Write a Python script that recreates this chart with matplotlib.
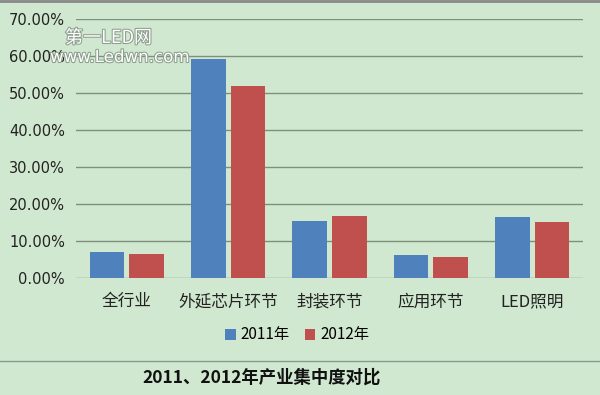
import matplotlib
matplotlib.use("Agg")
import matplotlib.pyplot as plt
import matplotlib.patheffects as pe
import numpy as np
from matplotlib.lines import Line2D

plt.rcParams["font.family"] = ["Noto Sans CJK SC", "DejaVu Sans"]

# 数据
categories = ["全行业", "外延芯片环节", "封装环节", "应用环节", "LED照明"]
vals_2011 = [7.0, 59.2, 15.4, 6.2, 16.5]
vals_2012 = [6.6, 51.9, 16.8, 5.7, 15.1]
series_names = ["2011年", "2012年"]
yticks = [0, 10, 20, 30, 40, 50, 60, 70]

BG = "#D0E8CF"
BLUE = "#4F81BD"
RED = "#C0504D"
GRID = "#7E8F7E"

fig = plt.figure(figsize=(6.0, 3.95), dpi=100, facecolor=BG)
ax = fig.add_axes([76 / 600, 1 - 278 / 395, 507 / 600, 259 / 395])
ax.set_facecolor(BG)

x = np.arange(len(categories))
w = 0.34
ax.bar(x - 0.195, vals_2011, width=w, color=BLUE, label=series_names[0], zorder=3)
ax.bar(x + 0.195, vals_2012, width=w, color=RED, label=series_names[1], zorder=3)

ax.set_xlim(-0.5, len(categories) - 0.5)
ax.set_ylim(0, 70)
ax.set_yticks(yticks)
ax.set_yticklabels([f"{v:.2f}%" for v in yticks], fontsize=10.5, color="#222222",
                   family=["DejaVu Sans"])
ax.set_xticks(x)
ax.set_xticklabels(categories, fontsize=12, color="#222222")
ax.tick_params(axis="both", length=0)
ax.tick_params(axis="x", pad=11)
ax.tick_params(axis="y", pad=8)
ax.grid(axis="y", color=GRID, lw=1, zorder=0)
for s in ax.spines.values():
    s.set_visible(False)

leg = ax.legend(loc="center", bbox_to_anchor=(297 / 600, 1 - 335 / 395),
                bbox_transform=fig.transFigure, ncol=2, frameon=False,
                fontsize=11, handlelength=0.7, handleheight=0.7,
                handletextpad=0.3, columnspacing=1.0)

# 水印
halo = [pe.withStroke(linewidth=1.5, foreground="#8E9E8E")]
fig.text(65 / 600, 1 - 38 / 395, "第一LED网", fontsize=13, color="white",
         va="center", path_effects=halo, zorder=5)
fig.text(50 / 600, 1 - 57 / 395, "www.Ledwn.com", fontsize=12, color="white",
         va="center", family=["DejaVu Sans"], path_effects=halo, zorder=5)

# 上边框与分隔线
fig.add_artist(Line2D([0, 1], [1 - 1 / 395, 1 - 1 / 395], color="#888888", lw=2))
fig.add_artist(Line2D([0, 1], [1 - 361 / 395, 1 - 361 / 395], color="#8A9A8A", lw=1))

fig.text(262 / 600, 1 - 378 / 395, "2011、2012年产业集中度对比", fontsize=12.5,
         fontweight="bold", color="#111111", ha="center", va="center")

fig.savefig("out.png", dpi=100, facecolor=fig.get_facecolor())
